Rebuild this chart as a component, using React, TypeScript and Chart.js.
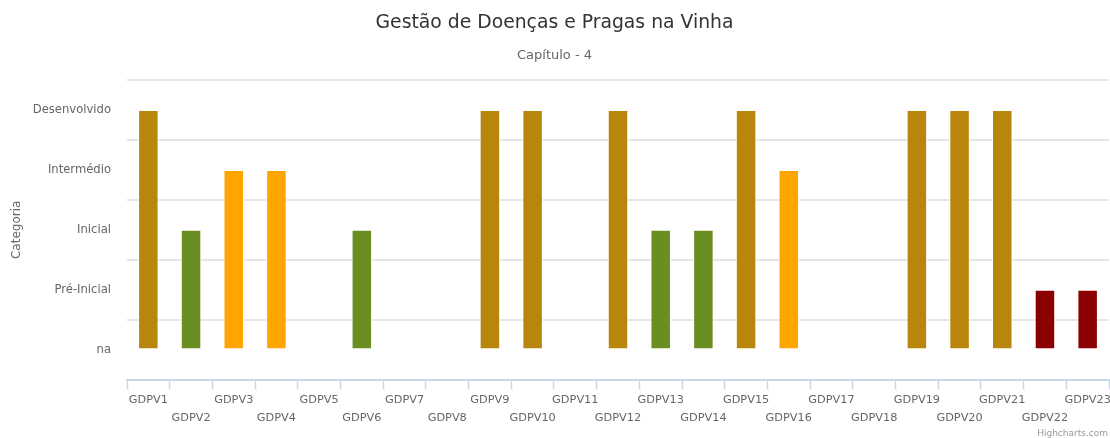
import React, { useEffect, useRef } from 'react';
import { Chart, registerables } from 'chart.js';

Chart.register(...registerables);

const FONT = '"DejaVu Sans", Verdana, sans-serif';

const categories = [
  'GDPV1', 'GDPV2', 'GDPV3', 'GDPV4', 'GDPV5', 'GDPV6', 'GDPV7', 'GDPV8',
  'GDPV9', 'GDPV10', 'GDPV11', 'GDPV12', 'GDPV13', 'GDPV14', 'GDPV15', 'GDPV16',
  'GDPV17', 'GDPV18', 'GDPV19', 'GDPV20', 'GDPV21', 'GDPV22', 'GDPV23',
];
const values = [4, 2, 3, 3, 0, 2, 0, 0, 4, 4, 0, 4, 2, 2, 4, 3, 0, 0, 4, 4, 4, 1, 1];
const levelLabels = ['na', 'Pré-Inicial', 'Inicial', 'Intermédio', 'Desenvolvido'];
const levelColors = ['#cccccc', '#8B0000', '#6B8E23', '#FFA500', '#B8860B'];

const chartTitle = 'Gestão de Doenças e Pragas na Vinha';
const chartSubtitle = 'Capítulo - 4';
const yAxisTitle = 'Categoria';
const creditsText = 'Highcharts.com';

const creditsPlugin = {
  id: 'credits',
  afterDraw(chart: any) {
    const ctx = chart.ctx;
    ctx.save();
    ctx.font = `9px ${FONT}`;
    ctx.fillStyle = '#999999';
    ctx.textAlign = 'right';
    ctx.textBaseline = 'alphabetic';
    ctx.fillText(creditsText, chart.width - 2, chart.height - 2);
    ctx.restore();
  },
};

export default function App() {
  const canvasRef = useRef<HTMLCanvasElement | null>(null);

  useEffect(() => {
    document.body.style.margin = '0';
    const canvas = canvasRef.current;
    if (!canvas) return;
    const chart = new Chart(canvas, {
      type: 'bar',
      data: {
        labels: categories,
        datasets: [
          {
            label: 'Categoria',
            data: values,
            backgroundColor: values.map((v) => levelColors[v]),
            borderColor: '#ffffff',
            borderWidth: 1,
            barPercentage: 0.48,
            categoryPercentage: 1,
          },
        ],
      },
      options: {
        animation: false,
        responsive: true,
        maintainAspectRatio: false,
        layout: { padding: { left: 0, right: 1, top: 0, bottom: 10.3 } },
        plugins: {
          legend: { display: false },
          tooltip: { enabled: false },
          title: {
            display: true,
            text: chartTitle,
            color: '#333333',
            font: { family: FONT, size: 18.8, weight: 'normal' },
            padding: { top: 12, bottom: 7 },
          },
          subtitle: {
            display: true,
            text: chartSubtitle,
            color: '#666666',
            font: { family: FONT, size: 13, weight: 'normal' },
            padding: { top: 6, bottom: 17 },
          },
        },
        scales: {
          x: {
            type: 'category',
            offset: true,
            grid: {
              offset: true,
              drawOnChartArea: false,
              drawTicks: true,
              tickLength: 10,
              tickColor: '#ccd6eb',
              tickWidth: 1.5,
              color: '#ccd6eb',
            },
            border: { display: true, color: '#ccd6eb', width: 2 },
            ticks: {
              autoSkip: false,
              maxRotation: 0,
              minRotation: 0,
              padding: 1,
              color: '#666666',
              font: { family: FONT, size: 11.3, lineHeight: 1.6 },
              callback: (_value: any, index: number) =>
                index % 2 === 0 ? [categories[index], ''] : ['', categories[index]],
            },
            afterFit: (s: any) => {
              s.paddingLeft = 0;
              s.paddingRight = 0;
            },
          },
          y: {
            min: -0.5,
            max: 4.5,
            grid: {
              drawTicks: false,
              lineWidth: 2,
              color: (ctx: any) => {
                const v = ctx.tick ? ctx.tick.value : 0;
                if (Number.isInteger(v)) return 'rgba(0,0,0,0)';
                if (v < 0) return 'rgba(0,0,0,0)';
                return '#e6e6e6';
              },
            },
            border: { display: false },
            ticks: {
              stepSize: 0.5,
              autoSkip: false,
              padding: 16,
              color: '#666666',
              font: { family: FONT, size: 11.6 },
              callback: (v: any) =>
                Number.isInteger(v) && v >= 0 && v < levelLabels.length ? levelLabels[v] : '',
            },
            title: {
              display: true,
              text: yAxisTitle,
              color: '#666666',
              font: { family: FONT, size: 12, weight: 'normal' },
              padding: { top: 10, bottom: 0 },
            },
            afterFit: (s: any) => {
              s.width = 127;
            },
          },
        },
      } as any,
      plugins: [creditsPlugin],
    });
    return () => chart.destroy();
  }, []);

  return (
    <div style={{ position: 'absolute', left: 0, top: 0, width: 1110, height: 438 }}>
      <canvas ref={canvasRef} />
    </div>
  );
}
